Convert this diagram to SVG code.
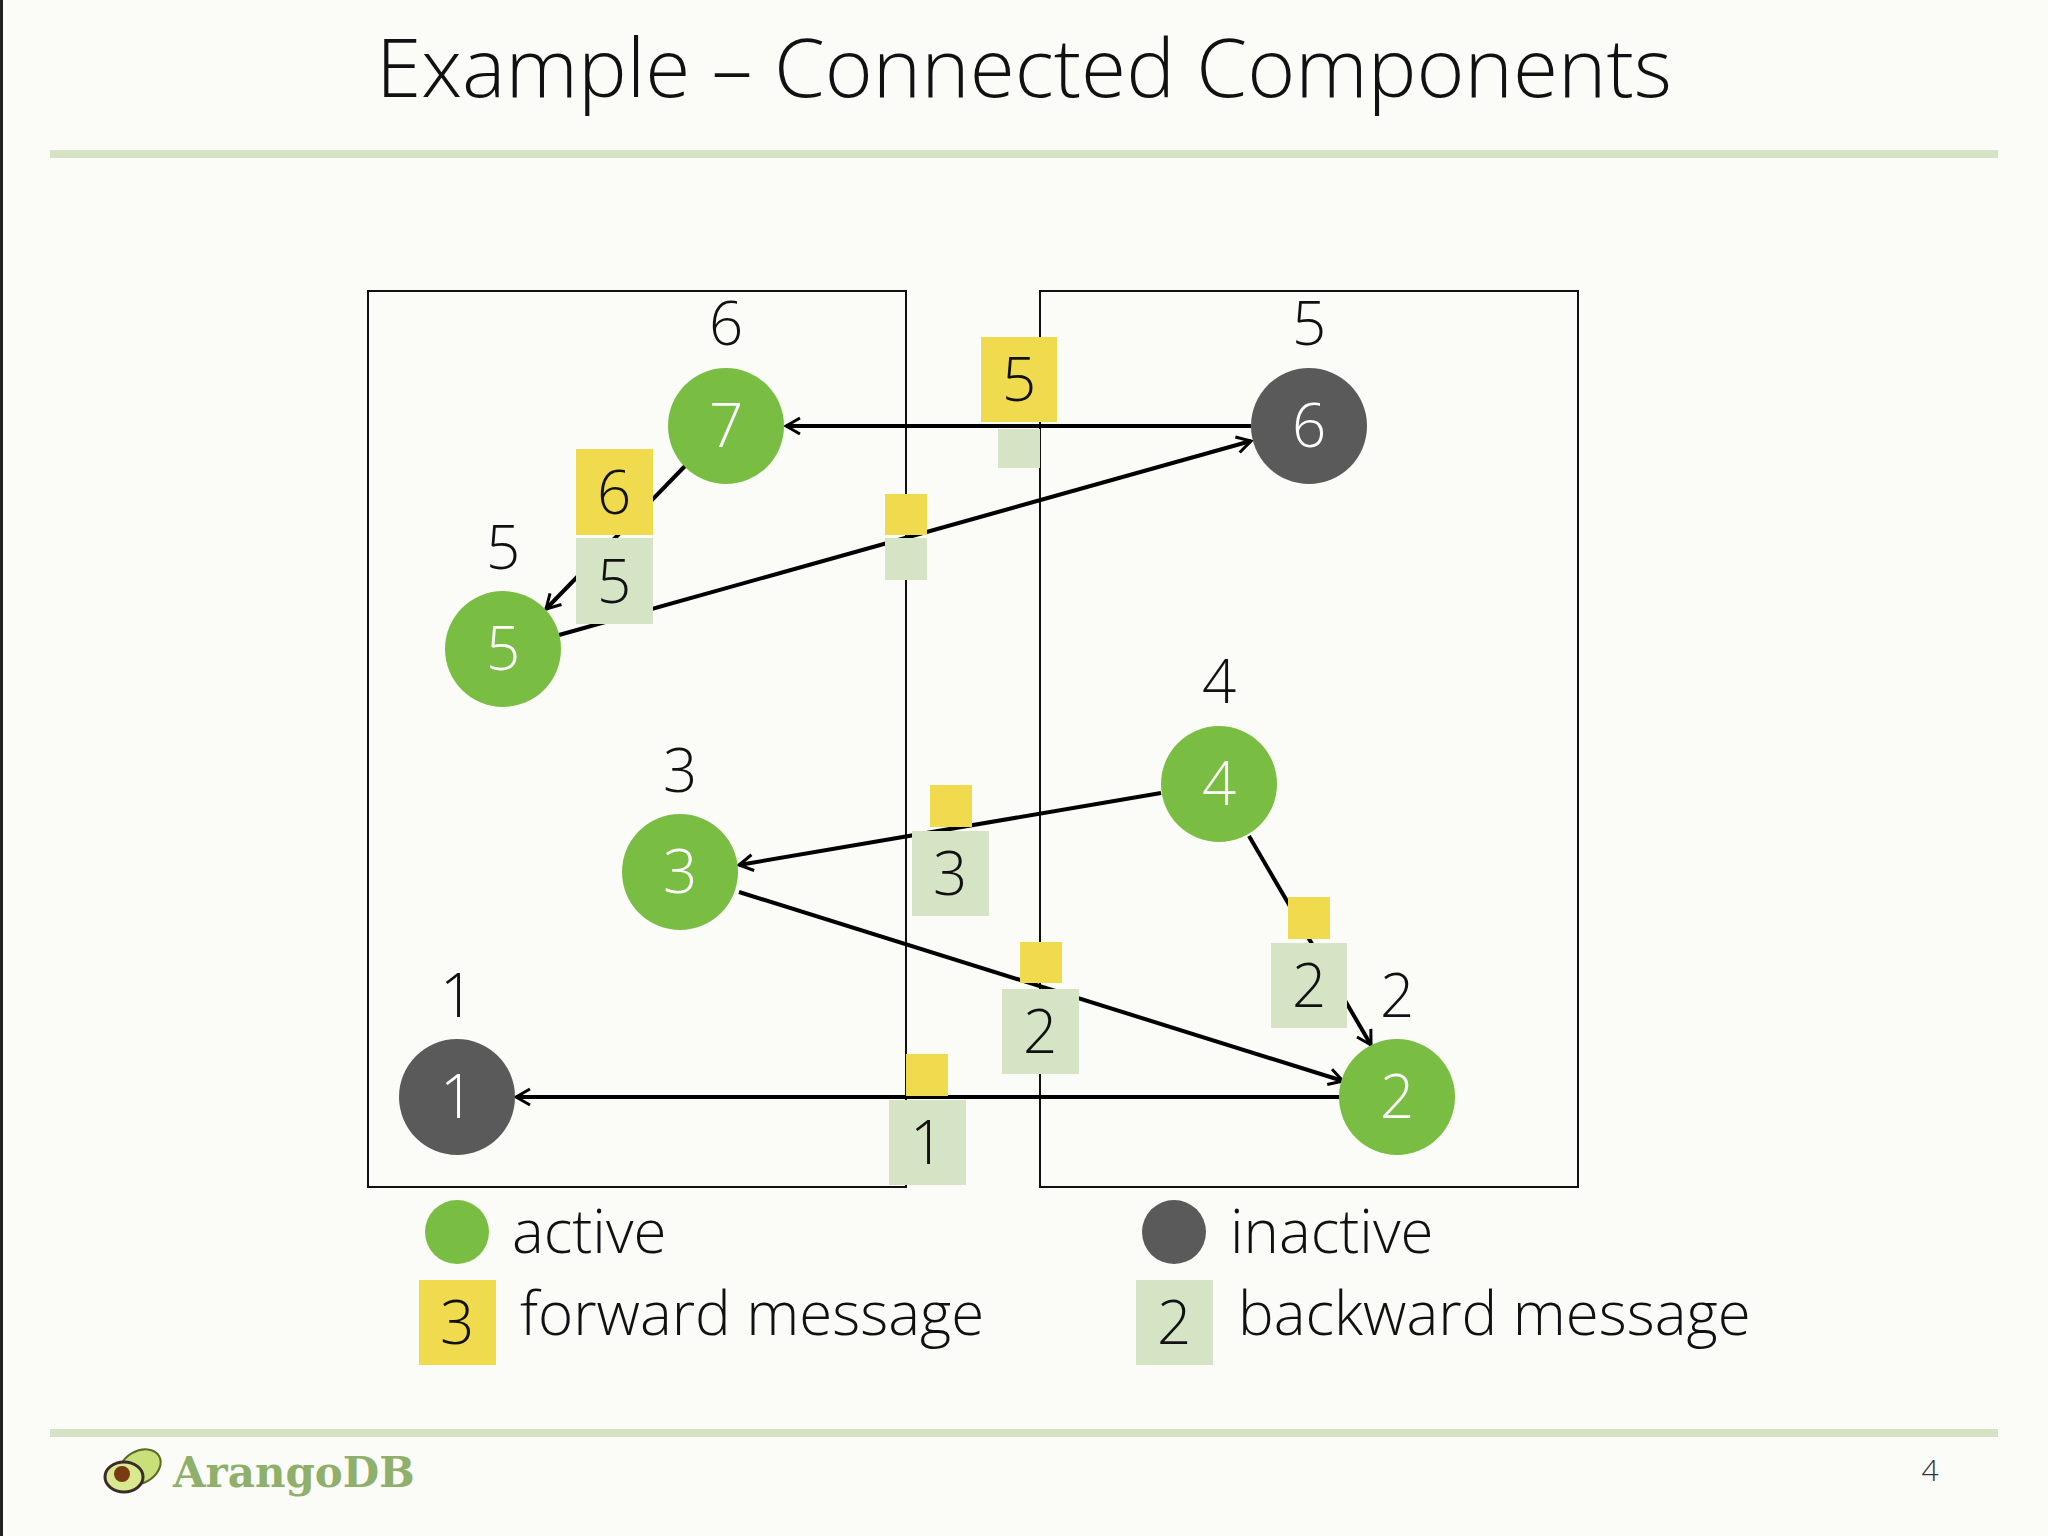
<svg xmlns="http://www.w3.org/2000/svg" width="2048" height="1536" viewBox="0 0 2048 1536">
<defs>
<style>
text{font-family:"Open Sans","Liberation Sans",sans-serif;font-weight:300;fill:#111}
.lbl{font-size:60px;text-anchor:middle}
.nt{font-size:60px;text-anchor:middle;fill:#fff}
.act{fill:#79bd42}
.ina{fill:#5a5a5a}
.fw{fill:#f0da4e}
.bw{fill:#d4e4c5}
.box{fill:none;stroke:#111;stroke-width:2}
.e{stroke:#000;stroke-width:4;fill:none;marker-end:url(#ah)}
</style>
<marker id="ah" viewBox="0 0 20 20" refX="18" refY="10" markerWidth="20" markerHeight="20" markerUnits="userSpaceOnUse" orient="auto">
<path d="M4,2 L18,10 L4,18" fill="none" stroke="#000" stroke-width="3"/>
</marker>
</defs>
<rect width="2048" height="1536" fill="#fbfcf8"/>
<rect x="0" y="0" width="3" height="1536" fill="#222"/>
<text x="1024" y="97" style="font-size:82px;text-anchor:middle">Example – Connected Components</text>
<rect x="50" y="150" width="1948" height="8" fill="#d5e3c4"/>
<rect x="50" y="1429" width="1948" height="8" fill="#d5e3c4"/>
<rect class="box" x="368" y="291" width="538" height="896"/>
<rect class="box" x="1040" y="291" width="538" height="896"/>
<g id="connectors">
<line class="e" x1="1251" y1="426" x2="786" y2="426"/>
<line class="e" x1="559" y1="635" x2="1251" y2="441"/>
<line class="e" x1="686" y1="465" x2="546" y2="609"/>
<line class="e" x1="1161" y1="793" x2="739" y2="865"/>
<line class="e" x1="739" y1="892" x2="1343" y2="1081"/>
<line class="e" x1="1249" y1="836" x2="1371" y2="1045"/>
<line class="e" x1="1340" y1="1097" x2="516" y2="1097"/>
</g>
<g id="messages">
<rect class="fw" x="981" y="337" width="76" height="85"/><text class="lbl" x="1019" y="401">5</text>
<rect class="bw" x="998" y="429" width="42" height="39"/>
<rect class="fw" x="576" y="449" width="77" height="86"/><text class="lbl" x="614" y="514">6</text>
<rect class="bw" x="576" y="538" width="77" height="86"/><text class="lbl" x="614" y="603">5</text>
<rect class="fw" x="885" y="494" width="42" height="41"/>
<rect class="bw" x="885" y="538" width="42" height="42"/>
<rect class="fw" x="930" y="785" width="42" height="42"/>
<rect class="bw" x="912" y="831" width="77" height="85"/><text class="lbl" x="950" y="895">3</text>
<rect class="fw" x="1288" y="897" width="42" height="42"/>
<rect class="bw" x="1271" y="943" width="76" height="85"/><text class="lbl" x="1309" y="1007">2</text>
<rect class="fw" x="1020" y="942" width="42" height="41"/>
<rect class="bw" x="1002" y="989" width="77" height="85"/><text class="lbl" x="1040" y="1053">2</text>
<rect class="fw" x="906" y="1054" width="42" height="42"/>
<rect class="bw" x="889" y="1100" width="77" height="85"/><text class="lbl" x="927" y="1164">1</text>
</g>
<g id="n7"><text class="lbl" x="726" y="345">6</text><circle class="act" cx="726" cy="426" r="58"/><text class="nt" x="726" y="447">7</text></g>
<g id="n6"><text class="lbl" x="1309" y="345">5</text><circle class="ina" cx="1309" cy="426" r="58"/><text class="nt" x="1309" y="447">6</text></g>
<g id="n5"><text class="lbl" x="503" y="569">5</text><circle class="act" cx="503" cy="649" r="58"/><text class="nt" x="503" y="670">5</text></g>
<g id="n4"><text class="lbl" x="1219" y="703">4</text><circle class="act" cx="1219" cy="784" r="58"/><text class="nt" x="1219" y="805">4</text></g>
<g id="n3"><text class="lbl" x="680" y="792">3</text><circle class="act" cx="680" cy="872" r="58"/><text class="nt" x="680" y="893">3</text></g>
<g id="n2"><text class="lbl" x="1397" y="1017">2</text><circle class="act" cx="1397" cy="1097" r="58"/><text class="nt" x="1397" y="1118">2</text></g>
<g id="n1"><text class="lbl" x="457" y="1017">1</text><circle class="ina" cx="457" cy="1097" r="58"/><text class="nt" x="457" y="1118">1</text></g>
<g id="legend">
<circle class="act" cx="457" cy="1232" r="32"/><text x="512" y="1253" style="font-size:60px">active</text>
<circle class="ina" cx="1174" cy="1232" r="32"/><text x="1230" y="1253" style="font-size:60px">inactive</text>
<rect class="fw" x="419" y="1280" width="77" height="85"/><text class="lbl" x="457" y="1344">3</text><text x="520" y="1335" style="font-size:60px">forward message</text>
<rect class="bw" x="1136" y="1280" width="77" height="85"/><text class="lbl" x="1174" y="1344">2</text><text x="1238" y="1335" style="font-size:60px">backward message</text>
</g>
<g id="logo">
<ellipse cx="140" cy="1467" rx="22" ry="16" fill="#c9df7a" stroke="#5a6b2a" stroke-width="2" transform="rotate(-30 140 1467)"/>
<ellipse cx="124" cy="1477" rx="19" ry="15" fill="#d8e98f" stroke="#3b2a2a" stroke-width="3"/>
<circle cx="122" cy="1474" r="8" fill="#7a3a12"/>
<text x="173" y="1487" style="font-family:'DejaVu Serif',serif;font-weight:bold;font-size:42px;fill:#8fb06a">ArangoDB</text>
</g>
<text x="1930" y="1481" style="font-size:30px;text-anchor:middle;fill:#333">4</text>
</svg>
